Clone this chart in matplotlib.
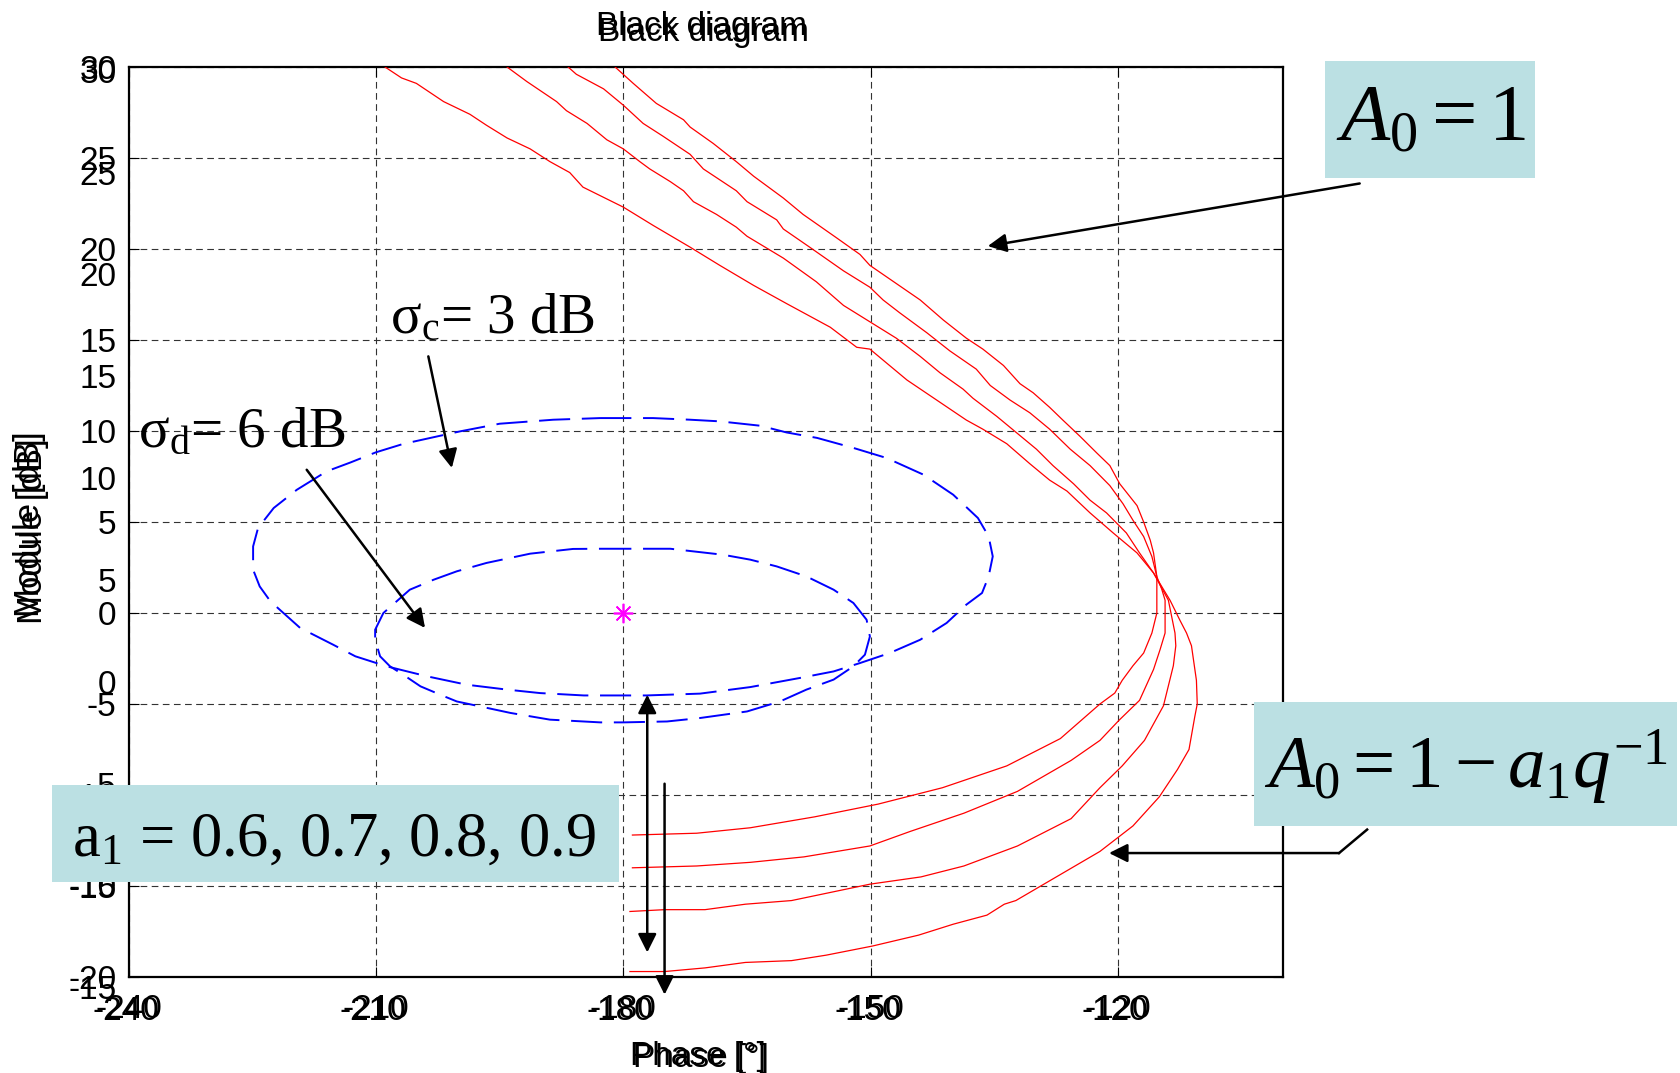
import matplotlib
matplotlib.use('Agg')
import matplotlib.pyplot as plt
from matplotlib.patches import Rectangle

plt.rcParams['font.family'] = ['Liberation Sans', 'DejaVu Sans']
plt.rcParams['axes.unicode_minus'] = False
plt.rcParams['mathtext.fontset'] = 'custom'
plt.rcParams['mathtext.rm'] = 'Liberation Serif'
plt.rcParams['mathtext.it'] = 'Liberation Serif:italic'
plt.rcParams['mathtext.bf'] = 'Liberation Serif:bold'

# black loci, one per a1 value (phase in degrees, module in dB)
phase_09 = [-208.9, -206.9, -205.1, -201.8, -198.6, -196.6, -194.1, -191.3, -188.9, -186.5,
            -184.9, -180.0, -176.4, -171.9, -168.3, -164.2, -160.2, -154.9, -151.7, -150.1,
            -145.6, -142.0, -138.4, -136.4, -133.5, -130.7, -128.3, -126.2, -123.4, -120.6,
            -117.7, -115.7, -113.7, -112.5, -111.7, -111.1, -110.5, -110.4, -110.7, -111.4,
            -112.8, -115.0, -118.2, -122.2, -132.4, -133.8, -135.9, -140.0, -144.2, -149.8,
            -155.4, -159.6, -165.2, -170.1, -175.0, -179.2]
db_09 = [30.0, 29.4, 29.1, 28.1, 27.4, 26.8, 26.1, 25.5, 24.8, 24.2,
         23.4, 22.3, 21.3, 20.1, 19.1, 18.0, 17.0, 15.7, 14.6, 14.5,
         12.8, 11.7, 10.6, 10.1, 9.3, 8.2, 7.3, 6.7, 5.5, 4.4,
         3.3, 2.2, 0.7, -0.4, -1.1, -1.8, -3.7, -5.0, -5.7, -7.5,
         -8.6, -10.1, -11.7, -13.1, -15.8, -16.0, -16.6, -17.1, -17.7, -18.3,
         -18.8, -19.1, -19.2, -19.5, -19.7, -19.7]

phase_08 = [-194.1, -191.7, -188.1, -186.9, -184.4, -182.0, -180.0, -178.0, -176.8, -174.3,
            -172.7, -171.5, -168.7, -166.3, -165.0, -160.6, -156.6, -153.3, -150.1, -146.9,
            -144.0, -141.6, -138.8, -137.6, -134.7, -132.3, -129.9, -127.9, -125.4, -123.4,
            -121.4, -119.0, -117.4, -115.7, -113.9, -113.1, -113.0, -113.3, -113.9, -114.5,
            -116.8, -119.5, -122.2, -125.7, -132.2, -138.7, -143.9, -150.1, -159.6, -165.2,
            -170.1, -175.0, -179.2]
db_08 = [30.0, 29.2, 28.1, 27.6, 26.9, 26.0, 25.5, 24.8, 24.4, 23.7,
         23.2, 22.6, 21.9, 21.2, 20.7, 19.5, 18.2, 16.9, 16.0, 15.1,
         14.1, 13.2, 12.3, 11.8, 10.8, 9.9, 9.0, 8.1, 7.1, 6.2,
         5.5, 4.4, 3.3, 2.2, 0.7, -1.1, -1.8, -2.9, -4.0, -5.1,
         -7.0, -8.4, -9.6, -11.3, -12.8, -13.9, -14.5, -14.9, -15.8, -16.0,
         -16.3, -16.3, -16.4]

phase_07 = [-186.7, -185.7, -182.4, -180.0, -177.6, -175.2, -171.9, -170.3, -166.3, -165.0,
            -161.4, -160.6, -157.4, -153.3, -150.1, -148.5, -146.5, -143.2, -140.4, -137.2,
            -135.5, -133.1, -130.7, -128.3, -125.8, -123.4, -121.0, -119.4, -118.2, -116.9,
            -115.9, -115.3, -114.7, -114.3, -114.3, -114.9, -115.7, -116.8, -117.4, -119.9,
            -122.2, -125.7, -132.2, -138.7, -145.2, -150.1, -158.1, -164.6, -171.1, -178.9]
db_07 = [30.0, 29.6, 28.8, 27.9, 26.9, 26.2, 25.2, 24.4, 23.2, 22.6,
         21.6, 21.1, 20.1, 18.8, 17.9, 17.2, 16.5, 15.4, 14.4, 13.4,
         12.5, 11.7, 11.0, 10.1, 9.0, 8.1, 7.0, 6.0, 5.1, 4.2,
         3.1, 2.0, 1.3, 0.7, -1.1, -2.0, -3.1, -4.2, -4.8, -5.9,
         -7.0, -8.1, -9.8, -11.0, -12.0, -12.8, -13.4, -13.7, -13.9, -14.0]

phase_06 = [-181.0, -178.8, -176.0, -172.7, -171.9, -169.1, -166.3, -164.2, -160.6, -158.2,
            -154.1, -151.3, -150.1, -144.0, -141.2, -138.4, -136.4, -133.9, -131.9, -130.3,
            -128.3, -126.7, -124.6, -122.6, -121.0, -119.8, -117.7, -116.9, -116.1, -115.7,
            -115.3, -115.3, -115.9, -116.9, -118.2, -119.5, -120.4, -122.2, -127.0, -133.5,
            -141.3, -149.1, -156.8, -164.6, -171.1, -178.9]
db_06 = [30.0, 29.1, 28.0, 27.1, 26.7, 25.8, 24.8, 24.0, 22.8, 21.9,
         20.6, 19.7, 19.1, 17.2, 16.1, 15.1, 14.5, 13.6, 12.6, 12.1,
         11.3, 10.6, 9.7, 8.8, 8.1, 7.1, 5.9, 5.0, 4.0, 3.3,
         2.0, 0.0, -1.1, -2.2, -2.9, -3.7, -4.4, -5.0, -6.9, -8.4,
         -9.6, -10.5, -11.2, -11.8, -12.1, -12.2]

# margin contours
phase_sc = [-182.8, -176.4, -171.9, -168.3, -163.4, -160.2, -156.5, -152.1, -148.1, -143.6,
            -140.0, -137.0, -135.7, -135.2, -135.7, -136.5, -138.4, -140.8, -144.0, -147.7,
            -151.3, -154.5, -158.6, -164.6, -170.7, -177.2, -182.8, -184.8, -190.1, -194.1,
            -199.0, -203.8, -208.7, -212.5, -215.2, -219.2, -222.8, -224.1, -224.9, -224.9,
            -224.3, -222.4, -219.6, -216.0, -213.1, -210.0, -206.7, -199.8, -195.0, -188.5,
            -182.8]
db_sc = [10.71, 10.71, 10.62, 10.53, 10.29, 9.92, 9.62, 9.07, 8.52, 7.6,
         6.5, 5.22, 4.21, 3.11, 2.01, 1.1, 0.46, -0.55, -1.47, -2.2,
         -2.75, -3.21, -3.57, -4.07, -4.43, -4.53, -4.53, -4.53, -4.40, -4.21,
         -3.94, -3.48, -2.93, -2.38, -1.74, -0.82, 0.64, 1.46, 2.38, 3.66,
         4.67, 5.77, 6.77, 7.78, 8.27, 8.83, 9.29, 9.98, 10.4, 10.62,
         10.71]

phase_sd = [-182.8, -174.3, -167.9, -164.6, -161.4, -157.8, -154.5, -152.1, -150.5, -150.1,
            -150.7, -152.1, -154.5, -157.8, -161.0, -165.0, -170.7, -174.7, -180.0, -182.8,
            -188.9, -193.7, -197.4, -200.2, -202.2, -204.6, -206.7, -208.3, -209.5, -210.1,
            -210.1, -209.1, -205.9, -203.0, -200.2, -196.6, -191.3, -186.1, -182.8]
db_sd = [3.53, 3.53, 3.2, 2.93, 2.56, 2.01, 1.28, 0.55, -0.37, -1.29,
         -2.29, -2.93, -3.66, -4.21, -4.86, -5.41, -5.77, -5.96, -6.01, -6.01,
         -5.86, -5.49, -5.13, -4.86, -4.49, -4.03, -3.39, -2.93, -2.38, -1.47,
         -0.92, 0.0, 1.28, 1.83, 2.29, 2.75, 3.26, 3.52, 3.53]

critical_point = (-180.0, 0.0)

x_ticks = [-240, -210, -180, -150, -120]
y_ticks = [-20, -15, -10, -5, 0, 5, 10, 15, 20, 25, 30]
y_ticks_2 = [-15, -10, -5, 0, 5, 10, 15, 20, 25, 30]

W, H = 1680, 1073


def fx(x):
    return x / W


def fy(y):
    return 1 - y / H


fig = plt.figure(figsize=(16.8, 10.73), dpi=100)
ax = fig.add_axes([fx(128.6), fy(977), (1283 - 128.6) / W, (977 - 67) / H])

for ph, db in [(phase_09, db_09), (phase_08, db_08), (phase_07, db_07), (phase_06, db_06)]:
    ax.plot(ph, db, color='red', lw=0.9, zorder=3)
for ph, db in [(phase_sc, db_sc), (phase_sd, db_sd)]:
    ax.plot(ph, db, color='blue', lw=1.4, dashes=(16, 6), zorder=3)
ax.plot([critical_point[0]], [critical_point[1]], marker=(8, 2, 0), ms=14,
        color='magenta', mec='magenta', mew=1.2, zorder=4)

ax.set_xlim(-240, -100)
ax.set_ylim(-20, 30)
ax.set_xticks(x_ticks)
ax.set_xticklabels([str(v) for v in x_ticks])
ax.set_yticks(y_ticks)
ax.set_yticklabels([str(v) for v in y_ticks])
ax.grid(True, color='0.2', linestyle=(0, (6, 4)), linewidth=0.8, zorder=1)
ax.set_axisbelow(True)
ax.tick_params(direction='in', length=7, width=0.8, top=True, right=True,
               labelsize=24)
ax.tick_params(axis='x', pad=12.5)
ax.tick_params(axis='y', pad=8.6)
for s in ax.spines.values():
    s.set_linewidth(1.6)

# second, shifted copy of the y labels
ax_y2 = fig.add_axes([fx(127.7), fy(987.2), 0.005, (987.2 - 70.8) / H])
ax_y2.set_ylim(-15, 30)
ax_y2.set_yticks(y_ticks_2)
ax_y2.set_yticklabels([str(v) for v in y_ticks_2])
ax_y2.tick_params(axis='y', length=0, pad=8, labelsize=24)
ax_y2.set_xticks([])
ax_y2.patch.set_visible(False)
for s in ax_y2.spines.values():
    s.set_visible(False)

# second, shifted copy of the x labels
ax_x2 = fig.add_axes([fx(125.6), fy(979), (1283 - 128.6) / W, 0.001])
ax_x2.set_xlim(-240, -100)
ax_x2.set_xticks(x_ticks)
ax_x2.set_xticklabels([str(v) for v in x_ticks])
ax_x2.tick_params(axis='x', length=0, pad=12.5, labelsize=24)
ax_x2.set_yticks([])
ax_x2.patch.set_visible(False)
for s in ax_x2.spines.values():
    s.set_visible(False)

# doubled title and axis labels
fig.text(fx(701), fy(35), 'Black diagram', ha='center', va='baseline', fontsize=24)
fig.text(fx(703), fy(41), 'Black diagram', ha='center', va='baseline', fontsize=24)
fig.text(fx(698), fy(1065), 'Phase [°]', ha='center', va='baseline', fontsize=24)
fig.text(fx(701), fy(1067), 'Phase [°]', ha='center', va='baseline', fontsize=24)
fig.text(fx(29), fy(524), 'Module [dB]', ha='center', va='center', rotation=90, fontsize=25)
fig.text(fx(33), fy(531), 'Module [dB]', ha='center', va='center', rotation=90, fontsize=25)

# annotations
serif = 'Liberation Serif'
fig.text(fx(390), fy(333), r'$\mathrm{\sigma}_\mathrm{c}$= 3 dB', family=serif,
         fontsize=41, ha='left', va='baseline', zorder=5)
fig.text(fx(138), fy(447), r'$\mathrm{\sigma}_\mathrm{d}$= 6 dB', family=serif,
         fontsize=41, ha='left', va='baseline', zorder=5)

box_color = '#bbe0e3'
fig.add_artist(Rectangle((fx(1325), fy(178)), 210 / W, 117 / H, transform=fig.transFigure,
                         facecolor=box_color, edgecolor='none', zorder=2))
fig.add_artist(Rectangle((fx(1254), fy(826)), 423 / W, 124 / H, transform=fig.transFigure,
                         facecolor=box_color, edgecolor='none', zorder=2))
fig.add_artist(Rectangle((fx(51.5), fy(881.7)), 567.8 / W, 96.7 / H, transform=fig.transFigure,
                         facecolor=box_color, edgecolor='none', zorder=2))
fig.text(fx(1336), fy(140), r'$A_0 = 1$', fontsize=58, ha='left', va='baseline', zorder=5)
fig.text(fx(1264), fy(788), r'$A_0 = 1 - a_1 q^{-1}$', fontsize=54, ha='left',
         va='baseline', zorder=5)
fig.text(fx(72), fy(856), r'$\mathrm{a}_1$ = 0.6, 0.7, 0.8, 0.9', family=serif,
         fontsize=45, ha='left', va='baseline', zorder=5)

arrow = dict(arrowstyle='-|>', color='k', lw=1.8, mutation_scale=28, shrinkA=0, shrinkB=0)
ax.annotate('', xy=(-135.8, 20.16), xytext=(-90.7, 23.6), arrowprops=arrow,
            annotation_clip=False)
ax.plot([-89.8, -93.2], [-11.9, -13.19], color='k', lw=1.8, clip_on=False)
ax.annotate('', xy=(-121.1, -13.19), xytext=(-93.2, -13.19), arrowprops=arrow,
            annotation_clip=False)
ax.annotate('', xy=(-200.8, 7.97), xytext=(-203.65, 14.1), arrowprops=arrow,
            annotation_clip=False)
ax.annotate('', xy=(-204.05, -0.82), xytext=(-218.4, 7.87), arrowprops=arrow,
            annotation_clip=False)
ax.annotate('', xy=(-177.1, -18.65), xytext=(-177.1, -4.49),
            arrowprops=dict(arrow, arrowstyle='<|-|>'), annotation_clip=False)
ax.annotate('', xy=(-175.0, -20.97), xytext=(-175.0, -9.38), arrowprops=arrow,
            annotation_clip=False)

fig.savefig('out.png', dpi=100)
